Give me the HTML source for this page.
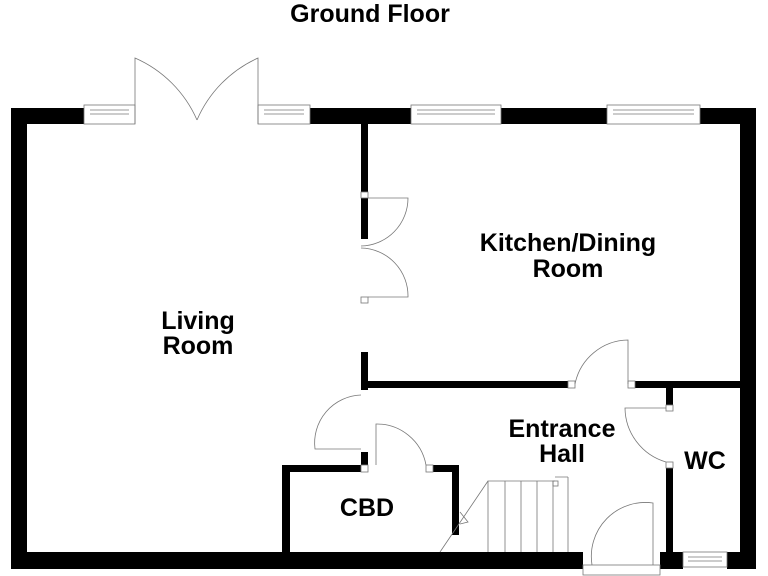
<!DOCTYPE html>
<html><head><style>body{margin:0;background:#fff}svg{display:block}</style></head><body>
<svg width="768" height="576" viewBox="0 0 768 576" xmlns="http://www.w3.org/2000/svg">
<g fill="#000">
<rect x="11" y="108" width="73" height="16"/>
<rect x="310" y="108" width="101" height="16"/>
<rect x="501" y="108" width="106" height="16"/>
<rect x="700" y="108" width="56" height="16"/>
<rect x="11" y="108" width="16" height="461"/>
<rect x="740" y="108" width="16" height="461"/>
<rect x="11" y="552" width="572" height="17"/>
<rect x="660" y="552" width="23" height="17"/>
<rect x="727" y="552" width="29" height="17"/>
<rect x="361" y="124" width="7" height="68"/>
<rect x="361" y="198" width="7" height="41"/>
<rect x="361" y="352" width="7" height="38"/>
<rect x="361" y="381" width="207" height="7"/>
<rect x="635" y="381" width="105" height="7"/>
<rect x="666" y="388" width="7" height="17"/>
<rect x="666" y="468" width="7" height="84"/>
<rect x="282" y="465" width="79" height="7"/>
<rect x="282" y="465" width="8" height="87"/>
<rect x="361" y="452" width="7" height="13"/>
<rect x="433" y="465" width="26" height="7"/>
<rect x="452" y="465" width="7" height="70"/>
</g>
<g fill="#fff" stroke="#777" stroke-width="0.8">
<rect x="84" y="105" width="51" height="19"/><line x1="90" y1="110" x2="129" y2="110"/><line x1="90" y1="114" x2="129" y2="114"/>
<rect x="258" y="105" width="52" height="19"/><line x1="264" y1="110" x2="304" y2="110"/><line x1="264" y1="114" x2="304" y2="114"/>
<rect x="411" y="105" width="90" height="19"/><line x1="417" y1="110" x2="495" y2="110"/><line x1="417" y1="114" x2="495" y2="114"/>
<rect x="607" y="105" width="93" height="19"/><line x1="613" y1="110" x2="694" y2="110"/><line x1="613" y1="114" x2="694" y2="114"/>
<rect x="683" y="552" width="44" height="15"/><line x1="688" y1="557" x2="722" y2="557"/><line x1="688" y1="561" x2="722" y2="561"/>
<rect x="583" y="565" width="77" height="10"/>
<rect x="361" y="192" width="7" height="6"/><rect x="361" y="297" width="7" height="6"/>
<rect x="568" y="381" width="7" height="7"/><rect x="628" y="381" width="7" height="7"/>
<rect x="666" y="405" width="7" height="6"/><rect x="666" y="462" width="7" height="6"/>
<rect x="361" y="465" width="7" height="7"/><rect x="426" y="465" width="7" height="7"/>
<rect x="553" y="481" width="5" height="5"/>
</g>
<g fill="none" stroke="#777" stroke-width="0.8">
<path d="M135 124 V58 A120 120 0 0 1 197 120"/>
<path d="M258 124 V58 A120 120 0 0 0 197 120"/>
<path d="M368 198 H408 A48 48 0 0 1 361 246"/>
<path d="M368 297 H408 A48 48 0 0 0 361 248"/>
<path d="M575 384 A55 55 0 0 1 628 340 V384"/>
<path d="M666 408 H625 A57 57 0 0 0 666 462"/>
<path d="M361 395 A48 48 0 0 0 315 449 H361"/>
<path d="M376 465 V424 A50 50 0 0 1 426 465"/>
<path d="M592 565 A54 54 0 0 1 653 503 V565"/>
<path d="M488 552 V481 H555 M505 481 V552 M521 481 V552 M537 481 V552 M553 481 V552 M568 477 V552 M555 477 H568"/>
<path d="M488 481 L440 552 M460 512 L468 522 L460 524"/>
</g>
<g font-family="Liberation Sans, sans-serif" font-weight="bold" text-anchor="middle" fill="#000">
<text x="370" y="22" font-size="25">Ground Floor</text>
<text x="198" y="329" font-size="25">Living</text>
<text x="198" y="354" font-size="25">Room</text>
<text x="568" y="251" font-size="25">Kitchen/Dining</text>
<text x="568" y="277" font-size="25">Room</text>
<text x="562" y="437" font-size="25">Entrance</text>
<text x="562" y="462" font-size="25">Hall</text>
<text x="705" y="469" font-size="25">WC</text>
<text x="367" y="516" font-size="25">CBD</text>
</g>
</svg>
</body></html>
